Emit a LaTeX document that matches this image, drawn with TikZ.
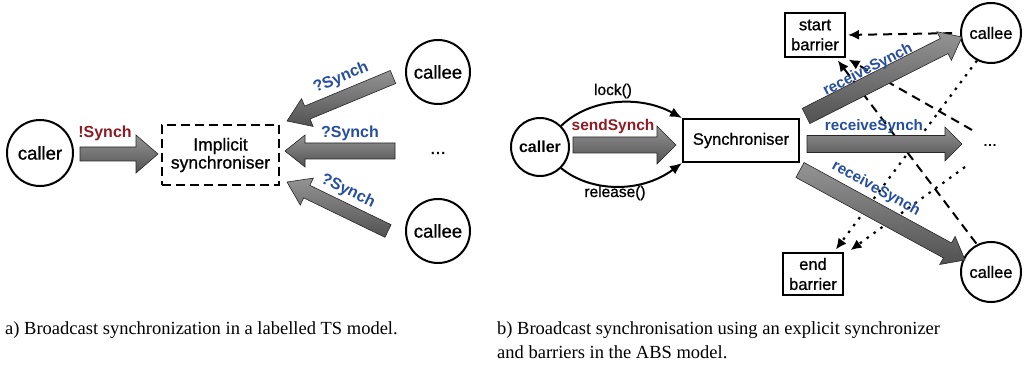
\documentclass[tikz,border=0pt]{standalone}
\usepackage{fontspec}
\setmainfont{Liberation Sans}
\newfontfamily\medfont[FakeBold=0.9]{Liberation Sans}
\newfontfamily\capfont{Liberation Serif}
\usetikzlibrary{calc,arrows.meta}
\definecolor{sendred}{RGB}{140,28,36}
\definecolor{recvblue}{RGB}{38,78,160}
\newcommand\fatarrow[6]{%
  \coordinate (fah) at ($(#2)!#5!(#1)$);
  \path[fat,#6] ($(#1)!#3!90:(#2)$) -- ($(fah)!#3!90:(#2)$) -- ($(fah)!#4!90:(#2)$) -- (#2)
     -- ($(fah)!#4!-90:(#2)$) -- ($(fah)!#3!-90:(#2)$) -- ($(#1)!#3!-90:(#2)$) -- cycle;}
\tikzset{
  circ/.style={circle,draw,line width=2pt,minimum size=#1,inner sep=0pt},
  boxnode/.style={rectangle,draw,line width=2pt,align=center,inner sep=0pt},
  dashbox/.style={dash pattern=on 9pt off 5pt},
  lbl/.style={font=\bfseries\fontsize{16}{18}\selectfont,inner sep=0pt},
  redlbl/.style={lbl,text=sendred},
  bluelbl/.style={lbl,text=recvblue},
  fat/.style={draw=black!85,line width=0.6pt,top color=black!42,bottom color=black!68},
  dasharr/.style={draw,line width=2pt,dash pattern=on 9pt off 6pt,-{Latex[length=11pt,width=10pt]}},
  dotarr/.style={draw,line width=2.2pt,dash pattern=on 2.5pt off 6pt,-{Latex[length=11pt,width=10pt]}},
  curvearr/.style={draw,line width=2pt,-{Latex[length=12pt,width=10pt]}},
  captext/.style={font=\capfont\fontsize{18.5}{24}\selectfont,inner sep=0pt,align=left,anchor=north west},
}
\begin{document}
\begin{tikzpicture}[x=1pt,y=-1pt,font=\medfont\fontsize{18.5}{20}\selectfont]
\useasboundingbox (0,0) rectangle (1028,366);

% ---------- left diagram ----------
\node[circ=66] (callerA) at (40,153) {caller};
\node[boxnode,dashbox,minimum width=117,minimum height=60,font=\medfont\fontsize{17.5}{18}\selectfont] (impl) at (220.5,155) {Implicit\\synchroniser};
\node[circ=64] (calleeA1) at (438,72) {callee};
\node[circ=64] (calleeA2) at (438,231) {callee};
\node (dotsA) at (438,153) {...};

\coordinate (sA1) at (80,154);  \coordinate (tA1) at (158,154);
\coordinate (sA2) at (393,77);  \coordinate (tA2) at (287,121);
\coordinate (sA3) at (395,151); \coordinate (tA3) at (285,151);
\coordinate (sA4) at (388,231); \coordinate (tA4) at (287,182);
\fatarrow{sA1}{tA1}{7pt}{19pt}{22pt}{}
\fatarrow{sA2}{tA2}{7pt}{15pt}{22pt}{}
\fatarrow{sA3}{tA3}{8pt}{16pt}{20pt}{}
\fatarrow{sA4}{tA4}{7pt}{15pt}{22pt}{}

\node[redlbl] (lA1) at (105,133) {!Synch};
\node[bluelbl,rotate=22.5] (lA2) at (341,78) {?Synch};
\node[bluelbl] (lA3) at (350,133) {?Synch};
\node[bluelbl,rotate=-26] (lA4) at (348,191) {?Synch};

% ---------- right diagram ----------
\node[circ=58,font=\bfseries\fontsize{16}{18}\selectfont] (callerB) at (540,147) {caller};
\node[boxnode,minimum width=116,minimum height=43,font=\medfont\fontsize{16.5}{18}\selectfont] (sync) at (741,140.5) {Synchroniser};
\node[boxnode,minimum width=60,minimum height=44,font=\medfont\fontsize{16.5}{20}\selectfont] (sb) at (815,35) {start\\barrier};
\node[boxnode,minimum width=60,minimum height=42,font=\medfont\fontsize{16.5}{20}\selectfont] (eb) at (813,274) {end\\barrier};
\node[circ=60,font=\medfont\fontsize{16.5}{18}\selectfont] (calleeT) at (991,33) {callee};
\node[circ=60,font=\medfont\fontsize{16.5}{18}\selectfont] (calleeB) at (991,272) {callee};
\node[font=\medfont\fontsize{16.5}{18}\selectfont] (dotsB) at (990,145) {...};

% lock / release
\draw[curvearr] (callerB.45) .. controls (590,98) and (640,95) .. (sync.north west);
\draw[curvearr] (callerB.-45) .. controls (590,192) and (640,194) .. (sync.south west);
\node[font=\medfont\fontsize{15.5}{18}\selectfont,inner sep=0pt] (lock) at (613,91) {lock()};
\node[font=\medfont\fontsize{15.5}{18}\selectfont,inner sep=0pt] (rel) at (615,193) {release()};

% fat arrows
\coordinate (sB1) at (573,145); \coordinate (tB1) at (676,145);
\coordinate (sB2) at (806,116); \coordinate (tB2) at (962,37);
\coordinate (sB3) at (807,144); \coordinate (tB3) at (962,144);
\coordinate (sB4) at (800,170); \coordinate (tB4) at (965,260);

% dashed / dotted barrier arrows
\draw[dasharr,shorten <=8pt,shorten >=2pt] (calleeT.west) -- (sb.east);
\draw[dasharr,shorten >=3pt] ($(dotsB)+(-18,-15)$) -- (sb.south east);
\draw[dasharr,shorten <=1pt,shorten >=3pt] (calleeB.117) -- ($(sb.south east)+(-10,0)$);
\draw[dotarr,shorten >=3pt] (calleeT.243) -- ($(eb.north east)+(-10,0)$);
\draw[dotarr,shorten >=3pt] ($(dotsB)+(-25,22)$) -- ($(eb.north east)+(4,0)$);

\fatarrow{sB1}{tB1}{8pt}{19pt}{19pt}{}
\fatarrow{sB2}{tB2}{8.5pt}{16pt}{20pt}{}
\fatarrow{sB3}{tB3}{8.5pt}{17pt}{17pt}{}
\fatarrow{sB4}{tB4}{8.5pt}{16pt}{20pt}{}

\node[redlbl,font=\bfseries\fontsize{15.5}{18}\selectfont] (lB1) at (613,126) {sendSynch};
\node[bluelbl,font=\bfseries\fontsize{15.2}{18}\selectfont,rotate=27] (lB2) at (868,70) {receiveSynch};
\node[bluelbl,font=\bfseries\fontsize{15.2}{18}\selectfont] (lB3) at (874,127) {receiveSynch};
\node[bluelbl,font=\bfseries\fontsize{15.2}{18}\selectfont,rotate=-28.6] (lB4) at (876,189) {receiveSynch};

% ---------- captions ----------
\node[captext] (capA) at (5,321) {a) Broadcast synchronization in a labelled TS model.};
\node[captext] (capB) at (497,321) {b) Broadcast synchronisation using an explicit synchronizer\\and barriers in the ABS model.};
\end{tikzpicture}
\end{document}
